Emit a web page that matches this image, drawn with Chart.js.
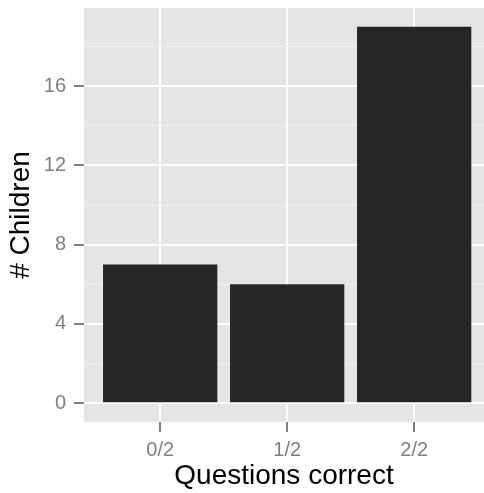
<!DOCTYPE html>
<html>
<head>
<meta charset="utf-8">
<script src="https://cdn.jsdelivr.net/npm/chart.js@4/dist/chart.umd.min.js"></script>
<style>
  html, body { margin: 0; padding: 0; background: #fff; }
  #wrap { width: 484px; height: 493px; }
</style>
</head>
<body>
<div id="wrap"><canvas id="chart"></canvas></div>
<script>
/* ===============================
   Data
================================ */
const categories = ["0/2", "1/2", "2/2"];
const children = [7, 6, 19];
const yMajorTicks = [0, 4, 8, 12, 16];
const yAllTicks = [0, 2, 4, 6, 8, 10, 12, 14, 16, 18];

const GREY = "#7f7f7f";
const FONT = "'Liberation Sans', Arial, sans-serif";

/* ===============================
   Panel background (ggplot grey)
================================ */
const panelBg = {
  id: "panelBg",
  beforeDraw(chart) {
    const { ctx, chartArea: a } = chart;
    ctx.save();
    ctx.fillStyle = "#e5e5e5";
    ctx.fillRect(a.left, a.top, a.right - a.left, a.bottom - a.top);
    ctx.restore();
  }
};

const isMajor = (v) => yMajorTicks.includes(v);

new Chart(document.getElementById("chart"), {
  type: "bar",
  data: {
    datasets: [{
      data: categories.map((c, i) => ({ x: i, y: children[i] })),
      backgroundColor: "#262626",
      borderWidth: 0,
      barPercentage: 0.9,
      categoryPercentage: 1.0
    }]
  },
  options: {
    responsive: true,
    maintainAspectRatio: false,
    animation: false,
    layout: { padding: { top: 8, right: 0, left: 0, bottom: 0 } },
    plugins: {
      legend: { display: false },
      tooltip: { enabled: false }
    },
    scales: {
      x: {
        type: "linear",
        min: -0.6,
        max: 2.55,
        offset: false,
        afterBuildTicks: (s) => { s.ticks = categories.map((c, i) => ({ value: i })); },
        afterFit: (s) => {
          s.height = 71;
          s.paddingLeft = 0;
          s.paddingRight = 0;
        },
        border: { display: false },
        grid: {
          offset: false,
          color: "#ffffff",
          lineWidth: 2,
          tickColor: GREY,
          tickLength: 10,
          tickWidth: 2
        },
        ticks: {
          autoSkip: false,
          maxRotation: 0,
          padding: 6,
          color: GREY,
          font: { family: FONT, size: 20 },
          callback: (v) => categories[v]
        },
        title: {
          display: true,
          text: "Questions correct",
          color: "#000",
          padding: { top: 0, bottom: 0 },
          font: { family: FONT, size: 28 }
        }
      },
      y: {
        min: -0.95,
        max: 19.95,
        afterBuildTicks: (s) => { s.ticks = yAllTicks.map(v => ({ value: v })); },
        afterFit: (s) => {
          s.width = 84;
          s.paddingTop = 0;
          s.paddingBottom = 0;
        },
        border: { display: false },
        grid: {
          color: (c) => isMajor(c.tick.value) ? "#ffffff" : "#f2f2f2",
          lineWidth: (c) => isMajor(c.tick.value) ? 2 : 1,
          tickColor: (c) => isMajor(c.tick.value) ? GREY : "rgba(0,0,0,0)",
          tickLength: 10,
          tickWidth: 2
        },
        ticks: {
          autoSkip: false,
          padding: 8,
          color: GREY,
          font: { family: FONT, size: 20 },
          callback: (v) => isMajor(v) ? String(v) : ""
        },
        title: {
          display: true,
          text: "# Children",
          color: "#000",
          padding: { top: 4, bottom: 0 },
          font: { family: FONT, size: 28 }
        }
      }
    }
  },
  plugins: [panelBg]
});
</script>
</body>
</html>
